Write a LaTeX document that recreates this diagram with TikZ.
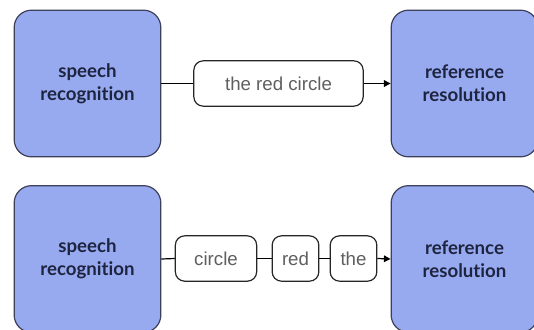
\documentclass[tikz,border=0pt]{standalone}
\usepackage{xcolor}
\usepackage{fontspec}
\usepackage{tikz}
\usetikzlibrary{arrows.meta}
\newfontfamily\boxfont{Lato}[Ligatures=NoCommon]
\newfontfamily\wordfont{Liberation Sans}
\definecolor{boxblue}{RGB}{151,170,240}
\definecolor{boxline}{RGB}{60,64,90}
\definecolor{boxtext}{RGB}{30,36,64}
\definecolor{wordtext}{RGB}{95,95,95}
\tikzset{
  module/.style={draw=boxline,line width=0.9pt,fill=boxblue,rounded corners=13pt,
    minimum width=110pt,minimum height=110pt,inner sep=0pt,align=center,
    font=\boxfont\bfseries\fontsize{14}{17}\selectfont,text=boxtext},
  word/.style={draw=black!85,line width=0.9pt,fill=white,rounded corners=7pt,
    minimum height=34pt,inner sep=0pt,align=center,
    font=\wordfont\fontsize{14}{16}\selectfont,text=wordtext},
  link/.style={line width=0.9pt,draw=black},
  feed/.style={link,-{Triangle[length=5pt,width=5pt]}}
}
\begin{document}
\begin{tikzpicture}[x=0.75pt,y=0.75pt,yscale=-1,xscale=1]
\useasboundingbox (0,0) rectangle (534,329);

%Shape: Rounded Rect [id:asr1] 
\node [module] (asr1) at (87.5,83.5) {speech\\recognition};
%Shape: Rounded Rect [id:ref1] 
\node [module] (ref1) at (464.5,83.5) {reference\\resolution};
%Shape: Rounded Rect [id:phrase] 
\node [word,minimum width=127pt] (phrase) at (278.5,83.5) {the red circle};

%Straight Lines [id:la1] 
\draw [link] (asr1.east) -- (phrase.west) ;
%Straight Lines [id:la2] 
\draw [feed] (phrase.east) -- (ref1.west) ;

%Shape: Rounded Rect [id:asr2] 
\node [module] (asr2) at (87.5,259) {speech\\recognition};
%Shape: Rounded Rect [id:ref2] 
\node [module] (ref2) at (464.5,259) {reference\\resolution};
%Shape: Rounded Rect [id:wcircle] 
\node [word,minimum width=61pt] (wcircle) at (216,258.5) {circle};
%Shape: Rounded Rect [id:wred] 
\node [word,minimum width=35pt] (wred) at (295.5,258.5) {red};
%Shape: Rounded Rect [id:wthe] 
\node [word,minimum width=35pt] (wthe) at (353.5,258.5) {the};

%Straight Lines [id:lb1] 
\draw [link] (asr2.east) -- (wcircle.west) ;
%Straight Lines [id:lb2] 
\draw [link] (wcircle.east) -- (wred.west) ;
%Straight Lines [id:lb3] 
\draw [link] (wred.east) -- (wthe.west) ;
%Straight Lines [id:lb4] 
\draw [feed] (wthe.east) -- (ref2.west) ;

\end{tikzpicture}
\end{document}
